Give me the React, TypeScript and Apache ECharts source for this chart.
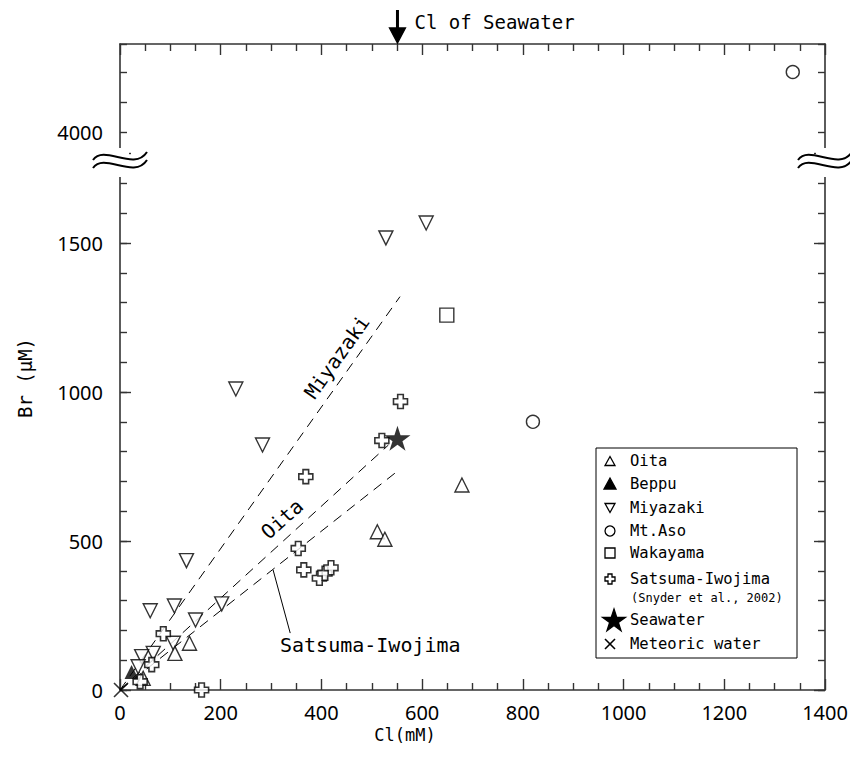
import React, { useEffect, useRef } from "react";
import * as echarts from "echarts";

// ---------- data ----------
const oita = [[679, 688], [511, 531], [526, 506], [138, 157], [109, 123], [46, 39]];
const beppu = [[23, 60]];
const miyazaki = [
  [528, 1517], [608, 1567], [230, 1010], [283, 822], [132, 434], [202, 289],
  [108, 282], [60, 266], [150, 235], [106, 157], [66, 123], [43, 112], [36, 78],
];
const mtAsoLow = [[820, 900]];
const mtAsoHigh = [[1336, 4202]];
const wakayama = [[649, 1258]];
const satsuma = [
  [557, 968], [520, 837], [369, 716], [354, 475], [365, 403], [396, 375], [407, 392],
  [419, 410], [86, 189], [63, 85], [40, 28], [162, 0],
];
const seawater = [[551, 845]];
const meteoric = [[2, 0]];

const miyazakiLine = [[0, 0], [556, 1320]];
const oitaLine = [[0, 0], [533, 822]];
const satsumaLine = [[0, 0], [556, 741]];
const satsumaLeader = [[304, 403], [338, 191]];

const xMin = 0, xMax = 1400, xStep = 200;
const yLowMin = 0, yLowMax = 1800, yLowLabelStep = 500;
const yHighMin = 3900, yHighMax = 4296, yHighLabels = [4000];

const legendItems = [
  "Oita", "Beppu", "Miyazaki", "Mt.Aso", "Wakayama",
  "Satsuma-Iwojima", "(Snyder et al., 2002)", "Seawater", "Meteoric water",
];

// ---------- styles ----------
const SANS = "'Noto Sans', 'DejaVu Sans', sans-serif";
const MONO = "'DejaVu Sans Mono', 'Liberation Mono', monospace";
const AX = "#333";
const PLUS = "path://M3,0H7V3H10V7H7V10H3V7H0V3H3Z";
const STAR =
  "path://M50,0L61.23,34.55L97.55,34.55L68.17,55.9L79.39,90.45L50,69.1L20.61,90.45L31.83,55.9L2.45,34.55L38.77,34.55Z";
const CROSS = "path://M0,0L10,10M10,0L0,10";
const hollow = { color: "#fff", borderColor: "#000", borderWidth: 1.4 };

const axisLine = { show: true, lineStyle: { color: AX, width: 1.6 } };

function xAxis(gridIndex: number, position: string, labels: boolean) {
  return {
    type: "value", gridIndex, position, min: xMin, max: xMax, interval: xStep,
    axisLine, splitLine: { show: false },
    axisTick: { show: true, inside: true, length: 11, lineStyle: { color: AX, width: 1.4 } },
    minorTick: { show: true, splitNumber: 4, length: 7, lineStyle: { color: AX, width: 1.4 } },
    axisLabel: labels
      ? { show: true, margin: 12, fontSize: 20, fontFamily: SANS, color: "#000",
          formatter: (v: number) => String(v) }
      : { show: false },
  };
}

function yAxis(gridIndex: number, position: string, min: number, max: number, interval: number,
  tickLen: number, lineShow: boolean, fmt: ((v: number) => string) | null) {
  return {
    type: "value", gridIndex, position, min, max, interval,
    axisLine: lineShow ? axisLine : { show: false },
    splitLine: { show: false },
    axisTick: { show: true, inside: true, length: tickLen, lineStyle: { color: AX, width: 1.4 } },
    axisLabel: fmt
      ? { show: true, margin: 17, fontSize: 20, fontFamily: SANS, color: "#000", formatter: fmt }
      : { show: false },
  };
}

function lineSeries(data: number[][], dashed: boolean) {
  return {
    type: "line", data, xAxisIndex: 0, yAxisIndex: 0, symbol: "none", silent: true, z: 1,
    lineStyle: { color: "#000", width: 1, type: dashed ? [10, 7] : "solid" },
  };
}

function scatter(name: string, data: number[][], symbol: string, size: any, itemStyle: any,
  extra: any = {}) {
  return {
    type: "scatter", name, data, symbol, symbolSize: size, itemStyle,
    xAxisIndex: 0, yAxisIndex: 0, z: 3, silent: true, ...extra,
  };
}

function buildOption() {
  return {
    animation: false,
    backgroundColor: "#fff",
    grid: [
      { left: 120, right: 25, top: 153.6, bottom: 68, containLabel: false, outerBoundsMode: "none" },
      { left: 120, right: 25, top: 44, bottom: 596, containLabel: false, outerBoundsMode: "none" },
    ],
    xAxis: [xAxis(0, "bottom", true), xAxis(1, "top", false)],
    yAxis: [
      yAxis(0, "left", yLowMin, yLowMax, 100, 7, true,
        (v: number) => (v % yLowLabelStep === 0 ? String(v) : "")),
      yAxis(0, "left", yLowMin, yLowMax, yLowLabelStep, 11, false, null),
      yAxis(0, "right", yLowMin, yLowMax, 100, 7, true, null),
      yAxis(0, "right", yLowMin, yLowMax, yLowLabelStep, 11, false, null),
      yAxis(1, "left", yHighMin, yHighMax, 100, 7, true,
        (v: number) => (yHighLabels.indexOf(v) >= 0 ? String(v) : "")),
      yAxis(1, "right", yHighMin, yHighMax, 100, 7, true, null),
    ],
    series: [
      lineSeries(miyazakiLine, true),
      lineSeries(oitaLine, true),
      lineSeries(satsumaLine, true),
      lineSeries(satsumaLeader, false),
      scatter("Miyazaki", miyazaki, "triangle", 14, hollow, { symbolRotate: 180 }),
      scatter("Oita", oita, "triangle", 14, hollow),
      scatter("Beppu", beppu, "triangle", 14, { color: "#000" }),
      scatter("Satsuma-Iwojima", satsuma, PLUS, 14, { ...hollow, borderWidth: 1.6 }),
      scatter("Mt.Aso", mtAsoLow, "circle", 13, hollow),
      scatter("Mt.Aso ", mtAsoHigh, "circle", 13, hollow, { xAxisIndex: 1, yAxisIndex: 4 }),
      scatter("Wakayama", wakayama, "rect", 14, hollow),
      scatter("Seawater", seawater, STAR, [26, 25], { color: "#000" }),
      scatter("Meteoric water", meteoric, CROSS, 14,
        { color: "rgba(0,0,0,0)", borderColor: "#000", borderWidth: 1.6 }),
    ],
  };
}

// ---------- graphic helpers ----------
function txt(text: string, x: number, y: number, size: number, family: string,
  align = "left", rotation = 0) {
  return {
    type: "text", x, y, rotation, z: 10,
    style: {
      text, fill: "#000", fontSize: size, fontFamily: family,
      align, textAlign: align, verticalAlign: "middle", textVerticalAlign: "middle",
    },
  };
}

function poly(points: number[][], fill: string) {
  return { type: "polygon", z: 10, shape: { points }, style: { fill, stroke: "#000", lineWidth: 1.3 } };
}

function starPoints(cx: number, cy: number, R: number) {
  const pts: number[][] = [];
  for (let i = 0; i < 10; i++) {
    const r = i % 2 === 0 ? R : R * 0.382;
    const a = -Math.PI / 2 + (i * Math.PI) / 5;
    pts.push([cx + r * Math.cos(a), cy + r * Math.sin(a)]);
  }
  return pts;
}

function plusPoints(cx: number, cy: number, s: number) {
  const a = s / 2, b = s * 0.2;
  return [
    [cx - b, cy - a], [cx + b, cy - a], [cx + b, cy - b], [cx + a, cy - b], [cx + a, cy + b],
    [cx + b, cy + b], [cx + b, cy + a], [cx - b, cy + a], [cx - b, cy + b], [cx - a, cy + b],
    [cx - a, cy - b], [cx - b, cy - b],
  ];
}

function breakMark(cx: number, cy: number) {
  const curve = (dy: number) => ({
    type: "bezierCurve", z: 11,
    shape: {
      x1: cx - 27, y1: cy + 1 + dy, cpx1: cx - 16, cpy1: cy - 15 + dy,
      cpx2: cx + 14, cpy2: cy + 13 + dy, x2: cx + 27, y2: cy - 7 + dy,
    },
    style: { stroke: "#000", lineWidth: 2, fill: null },
  });
  return [
    { type: "rect", z: 10, shape: { x: cx - 9, y: cy - 15, width: 18, height: 29 }, style: { fill: "#fff" } },
    curve(-4),
    curve(4),
  ];
}

function buildGraphic(seaX: number) {
  const lx = 610, tx = 630, ls = 15.5;
  const rows = [461, 484, 508, 531, 553, 579, 598, 620, 644];
  const els: any[] = [
    ...breakMark(120, 163),
    ...breakMark(825, 163),
    // arrow for seawater Cl
    { type: "line", z: 10, shape: { x1: seaX, y1: 10, x2: seaX, y2: 32 }, style: { stroke: "#000", lineWidth: 3 } },
    poly([[seaX - 8, 28], [seaX + 8, 28], [seaX, 43]], "#000"),
    txt("Cl of Seawater", seaX + 17, 22, 19, MONO),
    // annotations
    txt("Miyazaki", 337, 357, 20, MONO, "center", (54.6 * Math.PI) / 180),
    txt("Oita", 282, 519, 20, MONO, "center", (42 * Math.PI) / 180),
    txt("Satsuma-Iwojima", 280, 645, 20, MONO, "left"),
    // axis names
    txt("Cl(mM)", 405, 735, 17, MONO, "center"),
    txt("Br (μM)", 25, 378, 19, MONO, "center", Math.PI / 2),
    // legend box
    { type: "rect", z: 9, shape: { x: 596, y: 448, width: 201, height: 210 }, style: { fill: "#fff", stroke: "#000", lineWidth: 1 } },
    poly([[lx - 5, rows[0] + 4.5], [lx + 5, rows[0] + 4.5], [lx, rows[0] - 4.5]], "#fff"),
    poly([[lx - 6, rows[1] + 5], [lx + 6, rows[1] + 5], [lx, rows[1] - 6]], "#000"),
    poly([[lx - 5, rows[2] - 4.5], [lx + 5, rows[2] - 4.5], [lx, rows[2] + 4.5]], "#fff"),
    { type: "circle", z: 10, shape: { cx: lx, cy: rows[3], r: 5 }, style: { fill: "#fff", stroke: "#000", lineWidth: 1.3 } },
    { type: "rect", z: 10, shape: { x: lx - 5, y: rows[4] - 5, width: 10, height: 10 }, style: { fill: "#fff", stroke: "#000", lineWidth: 1.3 } },
    poly(plusPoints(lx, rows[5], 10), "#fff"),
    poly(starPoints(lx + 4, rows[7] + 1, 12), "#000"),
    { type: "line", z: 10, shape: { x1: lx - 5, y1: rows[8] - 5, x2: lx + 5, y2: rows[8] + 5 }, style: { stroke: "#000", lineWidth: 1.6 } },
    { type: "line", z: 10, shape: { x1: lx + 5, y1: rows[8] - 5, x2: lx - 5, y2: rows[8] + 5 }, style: { stroke: "#000", lineWidth: 1.6 } },
  ];
  legendItems.forEach((name, i) => {
    const small = i === 6;
    els.push(txt(name, small ? tx + 1 : tx, rows[i], small ? 12 : ls, MONO));
  });
  return { elements: els };
}

export default function App() {
  const ref = useRef<HTMLDivElement>(null);
  useEffect(() => {
    document.body.style.margin = "0";
    const chart = echarts.init(ref.current as HTMLDivElement, undefined, { renderer: "svg" });
    chart.setOption(buildOption() as any);
    const sx = chart.convertToPixel({ xAxisIndex: 0 } as any, seawater[0][0]) as unknown as number;
    chart.setOption({ graphic: buildGraphic(sx) } as any);
    return () => chart.dispose();
  }, []);
  return <div ref={ref} style={{ width: 850, height: 758 }} />;
}
